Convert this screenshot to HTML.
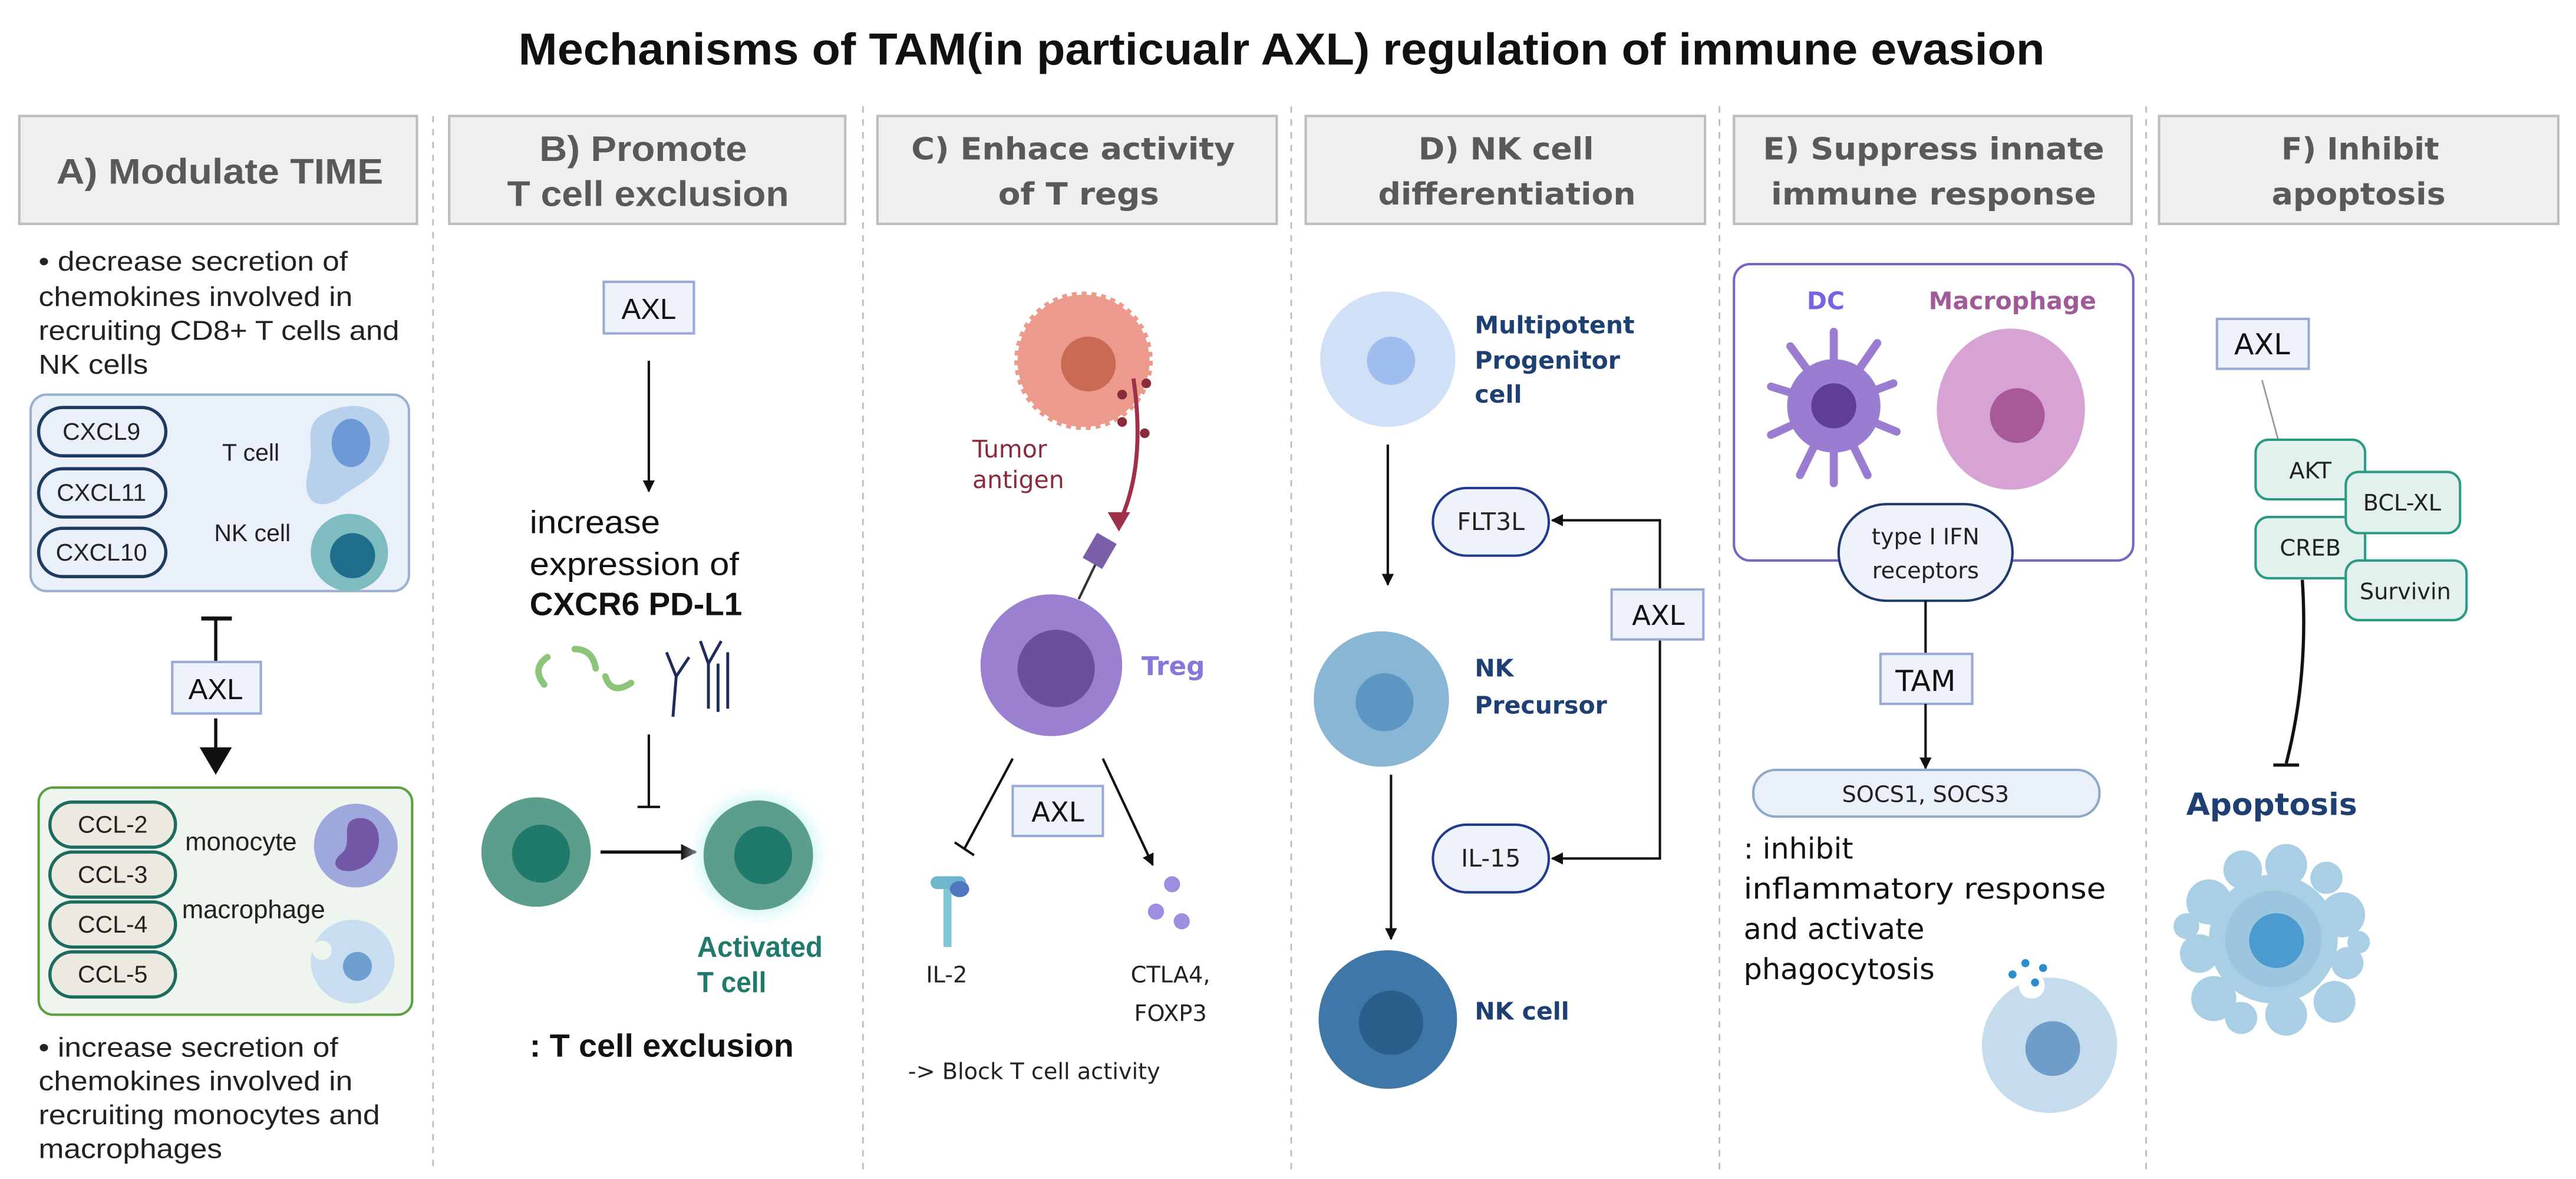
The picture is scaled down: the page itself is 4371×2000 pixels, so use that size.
<!DOCTYPE html>
<html><head><meta charset="utf-8"><style>
html,body{margin:0;padding:0;background:#fff;}
svg{display:block;}
text{font-family:"Liberation Sans",sans-serif;}
.v{font-family:"DejaVu Sans","Liberation Sans",sans-serif;}
</style></head><body>
<svg width="4371" height="2000" viewBox="0 0 1600 732" preserveAspectRatio="none" xmlns="http://www.w3.org/2000/svg">
<defs>
<marker id="ah" viewBox="0 0 10 10" refX="9" refY="5" markerWidth="5" markerHeight="5" orient="auto"><path d="M0,0 L10,5 L0,10 Z" fill="#111"/></marker>
<radialGradient id="glow"><stop offset="0.6" stop-color="#bdf0f3"/><stop offset="1" stop-color="#ffffff" stop-opacity="0"/></radialGradient>
</defs>
<rect width="1600" height="732" fill="#fff"/>
<text x="796" y="40" font-size="28" font-weight="bold" text-anchor="middle" textLength="948" lengthAdjust="spacingAndGlyphs" fill="#111">Mechanisms of TAM(in particualr AXL) regulation of immune evasion</text>

<!-- separators -->
<g stroke="#bbb" stroke-width="1" stroke-dasharray="4,4">
<line x1="269" y1="72" x2="269" y2="728"/><line x1="536" y1="66" x2="536" y2="728"/>
<line x1="802" y1="66" x2="802" y2="728"/><line x1="1068" y1="66" x2="1068" y2="728"/>
<line x1="1333" y1="66" x2="1333" y2="728"/>
</g>

<!-- headers -->
<g fill="#efefef" stroke="#bdbdbd" stroke-width="1.5">
<rect x="12" y="72" width="247" height="67"/><rect x="279" y="72" width="246" height="67"/>
<rect x="545" y="72" width="248" height="67"/><rect x="811" y="72" width="248" height="67"/>
<rect x="1077" y="72" width="247" height="67"/><rect x="1341" y="72" width="248" height="67"/>
</g>
<g fill="#595959" font-weight="bold" font-size="22">
<text x="35" y="114" textLength="203" lengthAdjust="spacingAndGlyphs">A) Modulate TIME</text>
<text x="335" y="100" textLength="129" lengthAdjust="spacingAndGlyphs">B) Promote</text>
<text x="315" y="128" textLength="175" lengthAdjust="spacingAndGlyphs">T cell exclusion</text>
</g>
<g class="v" fill="#595959" font-weight="bold" font-size="19">
<text class="v" x="566" y="99" textLength="201" lengthAdjust="spacingAndGlyphs">C) Enhace activity</text>
<text class="v" x="620" y="127" textLength="100" lengthAdjust="spacingAndGlyphs">of T regs</text>
<text class="v" x="881" y="99" textLength="109" lengthAdjust="spacingAndGlyphs">D) NK cell</text>
<text class="v" x="856" y="127" textLength="160" lengthAdjust="spacingAndGlyphs">differentiation</text>
<text class="v" x="1095" y="99" textLength="212" lengthAdjust="spacingAndGlyphs">E) Suppress innate</text>
<text class="v" x="1100" y="127" textLength="202" lengthAdjust="spacingAndGlyphs">immune response</text>
<text class="v" x="1417" y="99" textLength="98" lengthAdjust="spacingAndGlyphs">F) Inhibit</text>
<text class="v" x="1411" y="127" textLength="108" lengthAdjust="spacingAndGlyphs">apoptosis</text>
</g>

<!-- Panel A -->
<g font-size="17" fill="#222">
<text x="24" y="168" textLength="192" lengthAdjust="spacingAndGlyphs">• decrease secretion of</text>
<text x="24" y="190" textLength="195" lengthAdjust="spacingAndGlyphs">chemokines involved in</text>
<text x="24" y="211" textLength="224" lengthAdjust="spacingAndGlyphs">recruiting CD8+ T cells and</text>
<text x="24" y="232" textLength="68" lengthAdjust="spacingAndGlyphs">NK cells</text>
</g>
<rect x="19" y="245" width="235" height="122" rx="10" fill="#e9f0f9" stroke="#9ab0cf" stroke-width="1.5"/>
<g fill="#e9f0f9" stroke="#1f3a5f" stroke-width="2">
<rect x="24" y="253" width="79" height="30" rx="15"/><rect x="24" y="291" width="79" height="30" rx="15"/><rect x="24" y="328" width="79" height="30" rx="15"/>
</g>
<g font-size="15" fill="#222" text-anchor="middle">
<text x="63" y="273">CXCL9</text><text x="63" y="311">CXCL11</text><text x="63" y="348">CXCL10</text>
</g>
<g font-size="15" fill="#222"><text x="138" y="286">T cell</text><text x="133" y="336">NK cell</text></g>
<path d="M205,255 C230,245 248,262 240,282 C234,298 222,300 210,310 C196,318 186,310 192,290 C196,275 186,262 205,255 Z" fill="#b7d0ec"/>
<ellipse cx="218" cy="275" rx="12" ry="15" fill="#6d9ad6"/>
<circle cx="217" cy="343" r="24" fill="#7fbcc0"/><circle cx="219" cy="345" r="14" fill="#1f6e8c"/>
<line x1="134" y1="384" x2="134" y2="411" stroke="#111" stroke-width="2"/>
<line x1="125" y1="384" x2="144" y2="384" stroke="#111" stroke-width="2.5"/>
<rect x="107" y="411" width="55" height="32" fill="#eef3fb" stroke="#9aa9d6" stroke-width="1.5"/>
<text x="134" y="434" font-size="18" text-anchor="middle" fill="#111">AXL</text>
<line x1="134" y1="446" x2="134" y2="466" stroke="#111" stroke-width="2"/>
<path d="M124,464 L144,464 L134,481 Z" fill="#111"/>
<rect x="24" y="489" width="232" height="141" rx="9" fill="#eef4ee" stroke="#5aa040" stroke-width="1.5"/>
<g fill="#ece9e0" stroke="#1c6b5f" stroke-width="2">
<rect x="31" y="498" width="78" height="28" rx="14"/><rect x="31" y="529" width="78" height="28" rx="14"/>
<rect x="31" y="560" width="78" height="28" rx="14"/><rect x="31" y="591" width="78" height="28" rx="14"/>
</g>
<g font-size="15" fill="#222" text-anchor="middle">
<text x="70" y="517">CCL-2</text><text x="70" y="548">CCL-3</text><text x="70" y="579">CCL-4</text><text x="70" y="610">CCL-5</text>
</g>
<g font-size="16" fill="#222"><text x="115" y="528">monocyte</text><text x="113" y="570">macrophage</text></g>
<circle cx="221" cy="525" r="26" fill="#9ea8dc"/>
<path d="M222,508 C238,506 240,530 226,538 C214,545 202,538 212,530 C220,524 210,510 222,508 Z" fill="#7357a8"/>
<circle cx="219" cy="597" r="26" fill="#c8def0"/><circle cx="222" cy="600" r="9" fill="#6f9fd0"/>
<circle cx="200" cy="590" r="6" fill="#eef4ee"/>
<g font-size="17" fill="#222">
<text x="24" y="656" textLength="186" lengthAdjust="spacingAndGlyphs">• increase secretion of</text>
<text x="24" y="677" textLength="195" lengthAdjust="spacingAndGlyphs">chemokines involved in</text>
<text x="24" y="698" textLength="212" lengthAdjust="spacingAndGlyphs">recruiting monocytes and</text>
<text x="24" y="719" textLength="114" lengthAdjust="spacingAndGlyphs">macrophages</text>
</g>

<!-- Panel B -->
<rect x="375" y="175" width="56" height="32" fill="#eef3fb" stroke="#9aa9d6" stroke-width="1.5"/>
<text x="403" y="198" font-size="18" text-anchor="middle" fill="#111">AXL</text>
<line x1="403" y1="224" x2="403" y2="305" stroke="#111" stroke-width="1.5" marker-end="url(#ah)"/>
<g font-size="20" fill="#111">
<text x="329" y="331" textLength="81" lengthAdjust="spacingAndGlyphs">increase</text>
<text x="329" y="357" textLength="130" lengthAdjust="spacingAndGlyphs">expression of</text>
<text x="329" y="382" font-weight="bold" textLength="132" lengthAdjust="spacingAndGlyphs">CXCR6 PD-L1</text>
</g>
<g stroke="#8cc47a" stroke-width="4" fill="none" stroke-linecap="round">
<path d="M340,408 Q330,415 338,425"/><path d="M357,403 Q368,403 370,415"/><path d="M376,420 Q380,432 392,424"/>
</g>
<g stroke="#1d2c5a" stroke-width="1.8" fill="none">
<path d="M418,445 L420,420 L414,405 M420,420 L428,408"/><path d="M440,440 L440,412 L435,398 M440,412 L448,398 M446,442 L446,412"/>
<path d="M452,440 L452,405"/>
</g>
<line x1="403" y1="456" x2="403" y2="501" stroke="#111" stroke-width="1.5"/>
<line x1="396" y1="501" x2="410" y2="501" stroke="#111" stroke-width="1.5"/>
<circle cx="333" cy="529" r="34" fill="#5c9e8c"/><circle cx="336" cy="530" r="18" fill="#1f7a6c"/>
<line x1="373" y1="529" x2="432" y2="529" stroke="#111" stroke-width="2" marker-end="url(#ah)"/>
<circle cx="471" cy="531" r="48" fill="url(#glow)"/>
<circle cx="471" cy="531" r="34" fill="#5c9e8c"/><circle cx="474" cy="531" r="18" fill="#1f7a6c"/>
<g font-size="18" font-weight="bold" fill="#1f7a6c">
<text x="433" y="594" textLength="78" lengthAdjust="spacingAndGlyphs">Activated</text>
<text x="433" y="616" textLength="43" lengthAdjust="spacingAndGlyphs">T cell</text>
</g>
<text x="329" y="656" font-size="20" font-weight="bold" fill="#111" textLength="164" lengthAdjust="spacingAndGlyphs">: T cell exclusion</text>

<!-- Panel C -->
<circle cx="673" cy="224" r="41" fill="#eb9a8c" stroke="#eb9a8c" stroke-width="4" stroke-dasharray="3,3"/>
<circle cx="676" cy="226" r="17" fill="#c96a55"/>
<g class="v" font-size="15" fill="#8b2b3a"><text class="v" x="604" y="284">Tumor</text><text class="v" x="604" y="303">antigen</text></g>
<g fill="#8b2b3a"><circle cx="697" cy="245" r="3"/><circle cx="712" cy="238" r="3"/><circle cx="697" cy="262" r="3"/><circle cx="711" cy="269" r="3"/></g>
<path d="M704,235 Q712,290 695,325" stroke="#a0304a" stroke-width="2.5" fill="none"/>
<path d="M688,318 L702,318 L695,330 Z" fill="#a0304a"/>
<line x1="670" y1="372" x2="683" y2="345" stroke="#333" stroke-width="1.5"/>
<rect x="676" y="333" width="14" height="18" fill="#7a5ea8" transform="rotate(30 683 342)"/>
<circle cx="653" cy="413" r="44" fill="#9b7fd0"/><circle cx="656" cy="415" r="24" fill="#6a4f9e"/>
<text class="v" x="709" y="419" font-size="16" font-weight="bold" fill="#8a75d8">Treg</text>
<line x1="629" y1="471" x2="599" y2="527" stroke="#111" stroke-width="1.5"/>
<line x1="593" y1="523" x2="605" y2="531" stroke="#111" stroke-width="1.5"/>
<line x1="685" y1="471" x2="716" y2="537" stroke="#111" stroke-width="1.5" marker-end="url(#ah)"/>
<rect x="629" y="488" width="56" height="31" fill="#eef3fb" stroke="#9aa9d6" stroke-width="1.5"/>
<text class="v" x="657" y="510" font-size="17" text-anchor="middle" fill="#111">AXL</text>
<rect x="586" y="548" width="5" height="40" fill="#7fc6d6"/><rect x="578" y="544" width="22" height="8" rx="4" fill="#6fb6cc"/>
<ellipse cx="596" cy="552" rx="6" ry="5" fill="#4f76c0"/>
<g fill="#9e8de0"><circle cx="728" cy="549" r="5"/><circle cx="718" cy="566" r="5"/><circle cx="734" cy="572" r="5"/></g>
<g class="v" font-size="14" fill="#222" text-anchor="middle">
<text class="v" x="588" y="610">IL-2</text><text class="v" x="727" y="610">CTLA4,</text><text class="v" x="727" y="634">FOXP3</text>
</g>
<text class="v" x="564" y="670" font-size="14" fill="#222">-&gt; Block T cell activity</text>

<!-- Panel D -->
<circle cx="862" cy="223" r="42" fill="#cfe0f7"/><circle cx="864" cy="224" r="15" fill="#a0bdf0"/>
<g class="v" font-size="15" font-weight="bold" fill="#1d3f72">
<text class="v" x="916" y="207">Multipotent</text><text class="v" x="916" y="229">Progenitor</text><text class="v" x="916" y="250">cell</text>
<text class="v" x="916" y="420">NK</text><text class="v" x="916" y="443">Precursor</text>
<text class="v" x="916" y="633">NK cell</text>
</g>
<line x1="862" y1="276" x2="862" y2="363" stroke="#111" stroke-width="1.5" marker-end="url(#ah)"/>
<circle cx="858" cy="434" r="42" fill="#8ab6d6"/><circle cx="860" cy="436" r="18" fill="#5b97c2"/>
<line x1="864" y1="481" x2="864" y2="583" stroke="#111" stroke-width="1.5" marker-end="url(#ah)"/>
<circle cx="862" cy="633" r="43" fill="#3f78a8"/><circle cx="864" cy="635" r="20" fill="#2a5f8c"/>
<rect x="890" y="303" width="72" height="42" rx="21" fill="#eef3fb" stroke="#1f3a8f" stroke-width="1.5"/>
<rect x="890" y="512" width="72" height="42" rx="21" fill="#eef3fb" stroke="#1f3a8f" stroke-width="1.5"/>
<g class="v" font-size="15" fill="#222" text-anchor="middle"><text class="v" x="926" y="329">FLT3L</text><text class="v" x="926" y="538">IL-15</text></g>
<path d="M1031,366 L1031,323 L964,323" stroke="#111" stroke-width="1.5" fill="none" marker-end="url(#ah)"/>
<path d="M1031,397 L1031,533 L964,533" stroke="#111" stroke-width="1.5" fill="none" marker-end="url(#ah)"/>
<rect x="1001" y="366" width="57" height="31" fill="#eef3fb" stroke="#9aa9d6" stroke-width="1.5"/>
<text class="v" x="1030" y="388" font-size="17" text-anchor="middle" fill="#111">AXL</text>

<!-- Panel E -->
<rect x="1077" y="164" width="248" height="184" rx="10" fill="#fff" stroke="#7a62c2" stroke-width="1.5"/>
<text class="v" x="1134" y="192" font-size="15" font-weight="bold" fill="#7a62e0" text-anchor="middle">DC</text>
<text class="v" x="1250" y="192" font-size="15" font-weight="bold" fill="#a05a98" text-anchor="middle">Macrophage</text>
<g stroke="#9a7cd0" stroke-width="5" stroke-linecap="round" fill="none">
<path d="M1139,252 L1139,206"/><path d="M1139,252 L1112,215"/><path d="M1139,252 L1166,213"/><path d="M1139,252 L1100,240"/>
<path d="M1139,252 L1176,238"/><path d="M1139,252 L1100,270"/><path d="M1139,252 L1178,268"/><path d="M1139,252 L1118,295"/>
<path d="M1139,252 L1160,295"/><path d="M1139,252 L1139,300"/>
</g>
<circle cx="1139" cy="252" r="29" fill="#9a7cd0"/><circle cx="1139" cy="252" r="14" fill="#5e3f93"/>
<ellipse cx="1249" cy="254" rx="46" ry="50" fill="#d6a3d4"/><circle cx="1253" cy="258" r="17" fill="#a85a98"/>
<rect x="1142" y="313" width="108" height="60" rx="30" fill="#eef3fb" stroke="#1f3a6f" stroke-width="1.5"/>
<g class="v" font-size="14" fill="#222" text-anchor="middle"><text class="v" x="1196" y="338">type I IFN</text><text class="v" x="1196" y="359">receptors</text></g>
<line x1="1196" y1="373" x2="1196" y2="406" stroke="#111" stroke-width="1.5"/>
<rect x="1168" y="406" width="57" height="31" fill="#eef3fb" stroke="#9aa9d6" stroke-width="1.5"/>
<text class="v" x="1196" y="429" font-size="18" text-anchor="middle" fill="#111">TAM</text>
<line x1="1196" y1="437" x2="1196" y2="477" stroke="#111" stroke-width="1.5" marker-end="url(#ah)"/>
<rect x="1089" y="478" width="215" height="29" rx="14" fill="#e9f0f9" stroke="#8fa8c8" stroke-width="1.5"/>
<text class="v" x="1196" y="498" font-size="14" text-anchor="middle" fill="#222">SOCS1, SOCS3</text>
<g class="v" font-size="18" fill="#111">
<text class="v" x="1083" y="533">: inhibit</text>
<text class="v" x="1083" y="558" textLength="225" lengthAdjust="spacingAndGlyphs">inflammatory response</text>
<text class="v" x="1083" y="583">and activate</text>
<text class="v" x="1083" y="608">phagocytosis</text>
</g>
<circle cx="1273" cy="649" r="42" fill="#c5dcec"/><circle cx="1275" cy="651" r="17" fill="#6d9dc8"/>
<circle cx="1262" cy="612" r="8" fill="#fff"/>
<g fill="#2a8ecc"><circle cx="1250" cy="605" r="2.5"/><circle cx="1258" cy="598" r="2.5"/><circle cx="1269" cy="601" r="2.5"/><circle cx="1264" cy="610" r="2.5"/></g>

<!-- Panel F -->
<rect x="1377" y="198" width="57" height="31" fill="#eef3fb" stroke="#9aa9d6" stroke-width="1.5"/>
<text class="v" x="1405" y="220" font-size="18" text-anchor="middle" fill="#111">AXL</text>
<line x1="1405" y1="236" x2="1415" y2="273" stroke="#999" stroke-width="1"/>
<path d="M1430,360 Q1434,420 1420,474" stroke="#111" stroke-width="2" fill="none"/>
<line x1="1412" y1="475" x2="1428" y2="475" stroke="#111" stroke-width="2"/>
<g fill="#e3f1ee" stroke="#2a9a82" stroke-width="1.5">
<rect x="1401" y="273" width="68" height="37" rx="8"/><rect x="1401" y="321" width="68" height="38" rx="8"/>
<rect x="1457" y="293" width="71" height="38" rx="8"/><rect x="1457" y="348" width="75" height="37" rx="8"/>
</g>
<g class="v" font-size="14" fill="#222" text-anchor="middle">
<text class="v" x="1435" y="297">AKT</text><text class="v" x="1435" y="345">CREB</text>
<text class="v" x="1492" y="317">BCL-XL</text><text class="v" x="1494" y="372">Survivin</text>
</g>
<text class="v" x="1411" y="506" font-size="19" font-weight="bold" fill="#1d3f72" text-anchor="middle">Apoptosis</text>
<g fill="#a9cfe4">
<circle cx="1412" cy="583" r="40"/><circle cx="1372" cy="560" r="14"/><circle cx="1366" cy="592" r="12"/><circle cx="1375" cy="620" r="14"/>
<circle cx="1393" cy="540" r="12"/><circle cx="1420" cy="537" r="13"/><circle cx="1445" cy="545" r="10"/><circle cx="1455" cy="568" r="14"/>
<circle cx="1458" cy="598" r="10"/><circle cx="1450" cy="622" r="13"/><circle cx="1420" cy="630" r="13"/><circle cx="1392" cy="632" r="10"/>
<circle cx="1358" cy="575" r="8"/><circle cx="1465" cy="585" r="7"/>
</g>
<circle cx="1412" cy="583" r="30" fill="#9cc6df"/>
<circle cx="1414" cy="584" r="17" fill="#4b9ad0"/>
</svg>
</body></html>
